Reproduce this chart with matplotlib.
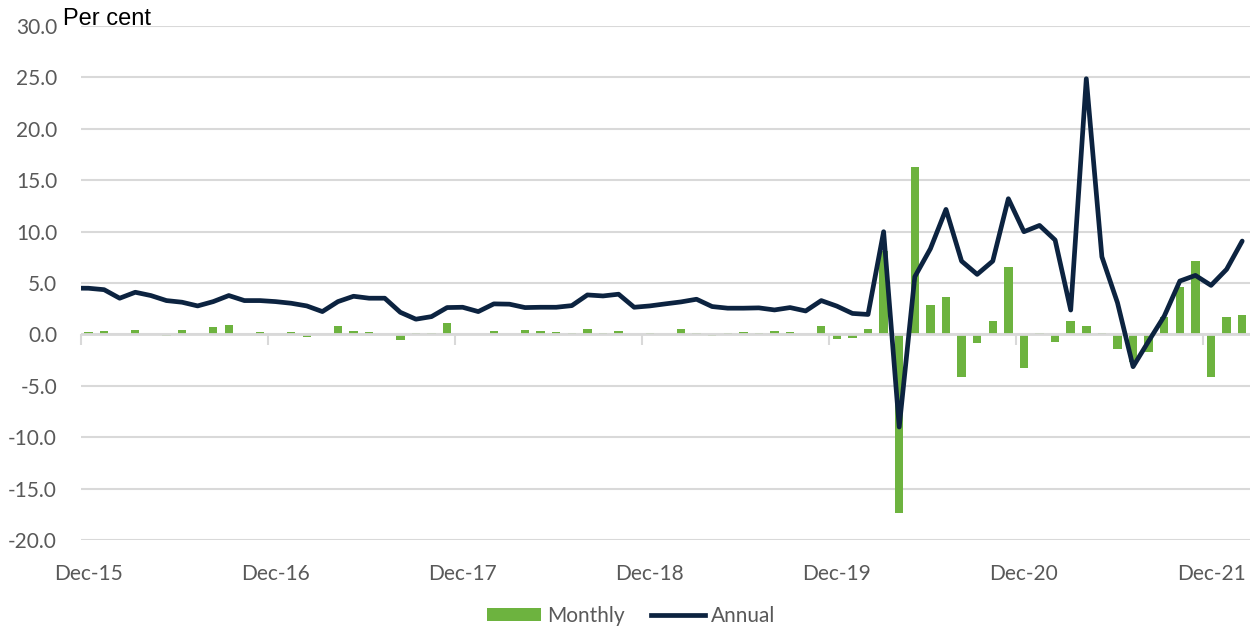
import numpy as np
import pandas as pd
import matplotlib
matplotlib.use("Agg")
import matplotlib.pyplot as plt
from matplotlib.patches import Patch
from matplotlib.lines import Line2D

# ---- data (Nov-15 .. Feb-22) ----
months = pd.date_range("2015-11-01", "2022-02-01", freq="MS")

monthly = [np.nan,
           0.2, 0.3, 0.0, 0.45, 0.0, -0.2, 0.4, 0.0, 0.7, 0.9, 0.0, 0.2,
           0.05, 0.2, -0.3, 0.0, 0.8, 0.3, 0.2, 0.0, -0.5, 0.1, 0.1, 1.1,
           0.05, 0.0, 0.3, 0.0, 0.4, 0.3, 0.2, 0.1, 0.5, 0.1, 0.3, 0.0,
           0.1, 0.07, 0.5, 0.1, -0.2, 0.1, 0.2, 0.1, 0.3, 0.2, 0.07, 0.8,
           -0.4, -0.35, 0.5, 8.1, -17.35, 16.28, 2.85, 3.66, -4.15, -0.81, 1.3, 6.52,
           -3.24, 0.16, -0.75, 1.26, 0.78, 0.16, -1.39, -2.7, -1.69, 1.69, 4.64, 7.1,
           -4.12, 1.69, 1.85]

annual = [4.5,
          4.49, 4.35, 3.52, 4.10, 3.78, 3.29, 3.13, 2.77, 3.19, 3.78, 3.29, 3.29,
          3.19, 3.03, 2.77, 2.22, 3.19, 3.71, 3.52, 3.52, 2.15, 1.48, 1.73, 2.61,
          2.64, 2.22, 2.97, 2.94, 2.61, 2.64, 2.64, 2.80, 3.84, 3.74, 3.91, 2.64,
          2.77, 2.97, 3.16, 3.42, 2.71, 2.55, 2.55, 2.58, 2.38, 2.61, 2.28, 3.29,
          2.75, 2.04, 1.94, 9.99, -9.01, 5.61, 8.33, 12.16, 7.13, 5.84, 7.13, 13.2,
          9.99, 10.6, 9.18, 2.37, 24.87, 7.55, 3.08, -3.14, -0.65, 1.78, 5.19, 5.74,
          4.77, 6.33, 9.08]

tick_labels = ["Dec-15", "Dec-16", "Dec-17", "Dec-18", "Dec-19", "Dec-20", "Dec-21"]
y_ticks = list(range(-20, 31, 5))

GREEN = "#6db33f"
NAVY = "#0c2340"
GRID = "#d9d9d9"
TXT = "#595959"

x = np.arange(len(months))
label_pos = [i for i, d in enumerate(months) if d.month == 12]
year_bounds = [p - 0.5 for p in label_pos]

fig = plt.figure(figsize=(12.55, 6.31), dpi=100)
ax = fig.add_axes([80.7 / 1255, 1 - 540 / 631, (1250 - 80.7) / 1255, 514 / 631])

ax.bar(x, monthly, width=0.54, color=GREEN, zorder=2)
ax.axhline(0, color=GRID, lw=2, zorder=2.5)
ax.plot(x, annual, color=NAVY, lw=3.4, zorder=3, solid_capstyle="round", solid_joinstyle="round")

ymin, ymax = -20, 30
ax.set_ylim(ymin, ymax)
ax.set_xlim(label_pos[0] - 0.5, len(months) - 0.5)
ax.set_yticks(y_ticks)
ax.set_yticklabels([f"{v:.1f}" for v in y_ticks])
ax.yaxis.grid(True, color=GRID, lw=1.5, zorder=0)
ax.set_axisbelow(True)
ax.tick_params(axis="y", length=0, pad=17, labelsize=15, labelcolor=TXT)
for lab in ax.get_yticklabels():
    lab.set_family("Lato")

ax.set_xticks(label_pos)
ax.set_xticklabels(tick_labels)
ax.tick_params(axis="x", length=0, pad=17, labelsize=15, labelcolor=TXT)
for lab in ax.get_xticklabels():
    lab.set_family("Lato")

for s in ax.spines.values():
    s.set_visible(False)

sec = ax.secondary_xaxis((0 - ymin) / (ymax - ymin))
sec.set_xticks(year_bounds)
sec.set_xticklabels([""] * len(year_bounds))
sec.tick_params(length=8, width=1.5, color=GRID, direction="out")
sec.spines["bottom"].set_visible(False)

fig.text(63 / 1255, 1 - 25 / 631, "Per cent", fontsize=17, family="Liberation Sans",
         color="black", va="baseline", ha="left")

handles = [Patch(facecolor=GREEN, edgecolor="none"), Line2D([], [], color=NAVY, lw=3.4)]
leg = fig.legend(handles, ["Monthly", "Annual"], loc="center", bbox_to_anchor=(0.503, 0.024),
                 ncol=2, frameon=False, prop={"family": "Lato", "size": 15},
                 handlelength=2.6, handleheight=0.65, handletextpad=0.3, columnspacing=1.25,
                 labelcolor=TXT)

fig.savefig("out.png", dpi=100)
